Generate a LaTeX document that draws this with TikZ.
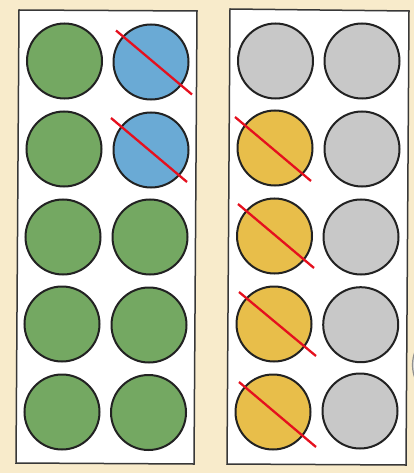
\documentclass[tikz,border=0pt]{standalone}
\usetikzlibrary{calc}
\definecolor{bg}{HTML}{F8EBCB}
\definecolor{cgreen}{HTML}{74A862}
\definecolor{cblue}{HTML}{6AAAD5}
\definecolor{cyellow}{HTML}{E8BE4A}
\definecolor{cgrey}{HTML}{C8C8C8}
\definecolor{cred}{HTML}{E5101E}
\definecolor{ink}{HTML}{222222}
\tikzset{
  dot/.style={circle, draw=ink, line width=2pt, minimum size=75pt, inner sep=0pt},
  gdot/.style={dot, fill=cgreen},
  bdot/.style={dot, fill=cblue},
  ydot/.style={dot, fill=cyellow},
  ydotg/.style={dot, fill=cgrey},
  frame/.style={draw=ink!90, fill=white, line width=1.5pt},
  cross/.style={draw=cred, line width=2.3pt}
}
\begin{document}
\begin{tikzpicture}[x=1pt, y=-1pt]
\useasboundingbox[fill=bg] (0,0) rectangle (414,473);
% partial circle at the right edge
\begin{scope}
\clip (0,0) rectangle (414,473);
\node[dot, fill=cgrey!60, draw=ink!50, line width=1.2pt] (edge) at (450,365) {};
\end{scope}
% frames
\draw[frame] (19,10) -- (197,11) -- (194,464) -- (16,463) -- cycle;
\draw[frame] (230,9) -- (409,11) -- (406,465) -- (227,464) -- cycle;
% left frame
\node[gdot] (g1) at (64.5,61) {};
\node[bdot] (b1) at (151,62) {};
\node[gdot] (g2) at (64,149) {};
\node[bdot] (b2) at (151,150) {};
\node[gdot] (g3) at (63,237) {};
\node[gdot] (h3) at (150,237) {};
\node[gdot] (g4) at (62,324) {};
\node[gdot] (h4) at (149,325) {};
\node[gdot] (g5) at (62,412) {};
\node[gdot] (h5) at (148.5,412.5) {};
% right frame
\node[ydotg] (r1) at (275.5,61) {};
\node[ydotg] (s1) at (362,61) {};
\node[ydot] (r2) at (275,148) {};
\node[ydotg] (s2) at (362,149) {};
\node[ydot] (r3) at (274.5,236) {};
\node[ydotg] (s3) at (361,237) {};
\node[ydot] (r4) at (274,324) {};
\node[ydotg] (s4) at (360.7,324.7) {};
\node[ydot] (r5) at (273,412) {};
\node[ydotg] (s5) at (360,411) {};
% crossings
\draw[cross] ($(b1.center)+(-35,-31.5)$) -- ($(b1.center)+(41,32.5)$);
\draw[cross] ($(b2.center)+(-40,-32)$) -- ($(b2.center)+(36,32)$);
\draw[cross] ($(r2.center)+(-40,-31)$) -- ($(r2.center)+(36,33)$);
\draw[cross] ($(r3.center)+(-36.5,-32)$) -- ($(r3.center)+(39.5,32)$);
\draw[cross] ($(r4.center)+(-35,-32)$) -- ($(r4.center)+(42,32)$);
\draw[cross] ($(r5.center)+(-34,-30)$) -- ($(r5.center)+(43,35)$);
\end{tikzpicture}
\end{document}
